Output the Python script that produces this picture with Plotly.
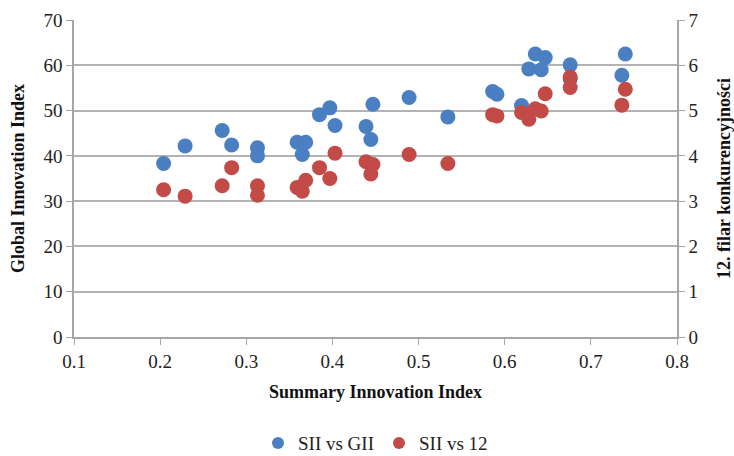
import plotly.graph_objects as go

sii = [0.204, 0.229, 0.272, 0.283, 0.313, 0.313, 0.359, 0.365, 0.369, 0.385, 0.397, 0.403,
       0.439, 0.4446, 0.447, 0.489, 0.534, 0.586, 0.591, 0.6195, 0.628, 0.6355, 0.6424,
       0.647, 0.676, 0.676, 0.736, 0.740]
gii = [38.3, 42.2, 45.6, 42.4, 41.8, 40.0, 43.0, 40.3, 43.0, 49.1, 50.6, 46.7,
       46.5, 43.6, 51.4, 52.9, 48.6, 54.2, 53.6, 51.1, 59.2, 62.5, 59.0,
       61.7, 60.1, 57.0, 57.8, 62.5]
pillar12 = [3.25, 3.11, 3.34, 3.74, 3.34, 3.13, 3.30, 3.22, 3.46, 3.74, 3.50, 4.06,
            3.87, 3.60, 3.81, 4.03, 3.83, 4.91, 4.88, 4.96, 4.81, 5.04, 4.99,
            5.37, 5.74, 5.51, 5.12, 5.47]

font_family = "Liberation Serif"
grid_col = "#b3b3b3"
axis_col = "#a6a6a6"

fig = go.Figure()
fig.add_trace(go.Scatter(x=sii, y=gii, mode="markers", name="SII vs GII",
                         marker=dict(color="#4a7fc1", size=15, line=dict(width=0)),
                         yaxis="y"))
fig.add_trace(go.Scatter(x=sii, y=pillar12, mode="markers", name="SII vs 12",
                         marker=dict(color="#c24a47", size=15, line=dict(width=0)),
                         yaxis="y2"))

tickfont = dict(family=font_family, size=19, color="#222222")
titlefont = dict(family=font_family, size=18, color="#111111")

fig.update_layout(
    width=734, height=456,
    margin=dict(l=74, r=57, t=20, b=119, autoexpand=False),
    paper_bgcolor="white", plot_bgcolor="white",
    font=dict(family=font_family, size=19, color="#222222"),
    showlegend=True,
    legend=dict(orientation="h", x=0.5, xanchor="center", y=-0.335, yanchor="middle",
                font=dict(size=19), itemsizing="constant", itemwidth=30,
                tracegroupgap=0),
    xaxis=dict(range=[0.1, 0.8], dtick=0.1, tick0=0.1, tickformat=".1f",
               showgrid=False, showline=True, linecolor=axis_col, linewidth=1.5,
               ticks="outside", ticklen=6, tickcolor=axis_col, zeroline=False,
               tickfont=tickfont,
               title=dict(text="<b>Summary Innovation Index</b>", standoff=15,
                          font=titlefont)),
    yaxis=dict(range=[0, 70], dtick=10, showgrid=True, gridcolor=grid_col, gridwidth=1.5,
               showline=True, linecolor=axis_col, linewidth=1.5, zeroline=False,
               ticks="outside", ticklen=6, tickcolor=axis_col, tickfont=tickfont,
               title=dict(text="<b>Global Innovation Index</b>", standoff=14,
                          font=titlefont)),
    yaxis2=dict(range=[0, 7], dtick=1, overlaying="y", side="right", showgrid=False,
                showline=True, linecolor=axis_col, linewidth=1.5, zeroline=False,
                ticks="outside", ticklen=6, tickcolor=axis_col, tickfont=tickfont,
                title=dict(text="<b>12. filar konkurencyjności</b>", standoff=26,
                           font=titlefont)),
)

fig.write_html("out.html")
